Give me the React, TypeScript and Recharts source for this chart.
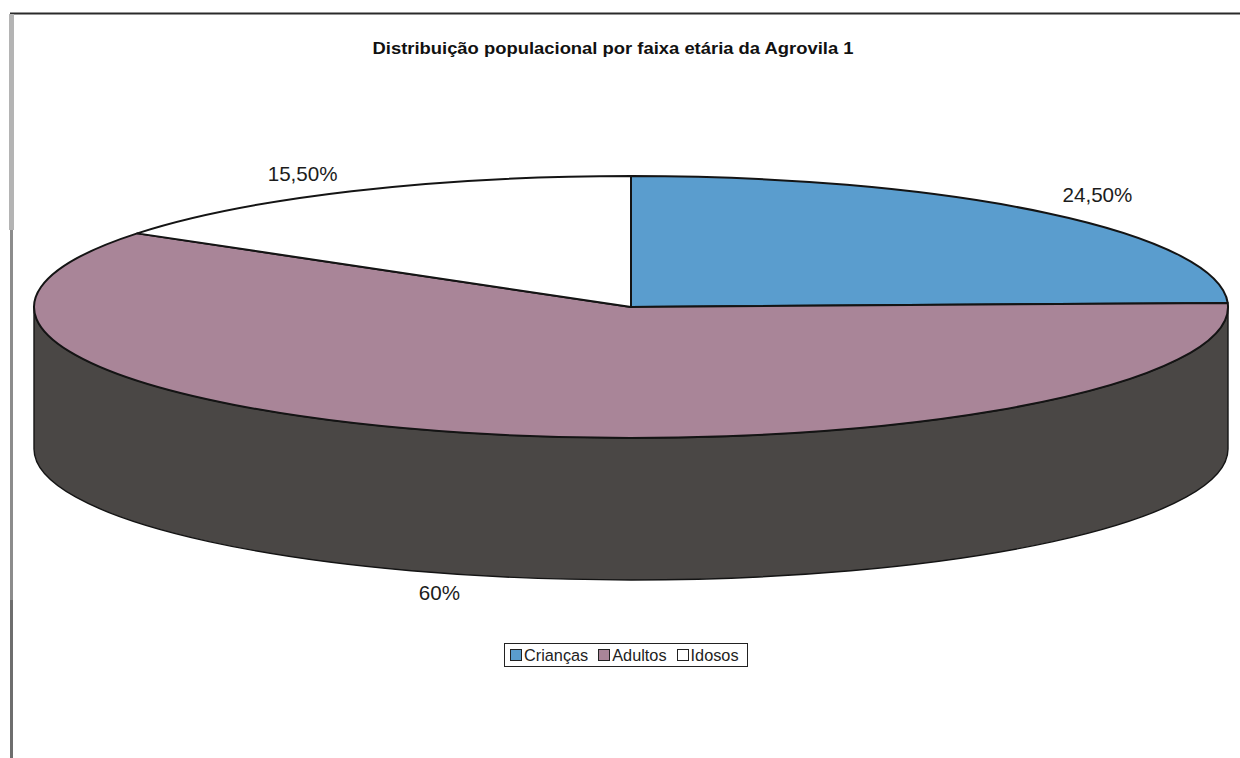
import React from "react";
import { PieChart, Pie, Cell, Legend } from "recharts";

const categories = ["Crianças", "Adultos", "Idosos"];
const shares = [24.5, 60, 15.5];
const shareLabels = ["24,50%", "60%", "15,50%"];
const sliceColors = ["#5a9dce", "#a98598", "#ffffff"];
const title = "Distribuição populacional por faixa etária da Agrovila 1";

const rows = categories.map((name, i) => ({ name, value: shares[i], text: shareLabels[i] }));

const FONT = '"Liberation Sans", Arial, sans-serif';
const WIDTH = 1240;
const HEIGHT = 758;
const CX = 631;
const CY = 307;
const RX = 597;
// Vertical squash of the disc and the height of its rim
const SQUASH = 131 / 597;
const DEPTH = 142;
const RIM = "#4a4745";
const INK = "#141414";
const RAD = Math.PI / 180;

const rimPoint = (cx: number, cy: number, r: number, deg: number) => ({
  x: cx + r * Math.cos(deg * RAD),
  y: cy - r * SQUASH * Math.sin(deg * RAD),
});

// One slice of the tilted disc, with its rim wherever the slice faces the viewer
function DiscSlice(props: any) {
  const { cx, cy, outerRadius: r, startAngle, endAngle, fill } = props;
  const ry = r * SQUASH;
  const a = rimPoint(cx, cy, r, startAngle);
  const b = rimPoint(cx, cy, r, endAngle);
  const large = Math.abs(startAngle - endAngle) > 180 ? 1 : 0;
  const top = `M${cx},${cy} L${a.x},${a.y} A${r},${ry} 0 ${large} 1 ${b.x},${b.y} Z`;

  const hi = Math.min(startAngle, 0);
  const lo = Math.max(endAngle, -180);
  let wall = null;
  if (hi > lo) {
    const p = rimPoint(cx, cy, r, hi);
    const q = rimPoint(cx, cy, r, lo);
    const d = `M${p.x},${p.y} A${r},${ry} 0 0 1 ${q.x},${q.y} L${q.x},${q.y + DEPTH} A${r},${ry} 0 0 0 ${p.x},${p.y + DEPTH} Z`;
    wall = <path d={d} fill={RIM} stroke={INK} strokeWidth={1.4} strokeLinejoin="round" />;
  }
  return (
    <g>
      {wall}
      <path d={top} fill={fill} stroke={INK} strokeWidth={2} strokeLinejoin="round" />
    </g>
  );
}

// Percent labels sit just outside the slice's mid point on the rim
function ShareLabel(props: any) {
  const { cx, cy, outerRadius, midAngle, payload } = props;
  const p = rimPoint(cx, cy, outerRadius, midAngle);
  const front = Math.sin(midAngle * RAD) < 0;
  const dx = front ? -25 : Math.cos(midAngle * RAD) > 0 ? 51 : -49;
  const dy = front ? DEPTH + 18 : -18;
  return (
    <text x={p.x + dx} y={p.y + dy} textAnchor="middle" dominantBaseline="central" fontFamily={FONT} fontSize={20.6} fill="#1c1c1c">
      {payload.text}
    </text>
  );
}

function LegendBox(props: any) {
  const items = props.payload ?? [];
  return (
    <div
      style={{
        boxSizing: "border-box",
        width: 244,
        height: 24,
        border: "1.5px solid #222",
        background: "#fff",
        display: "flex",
        alignItems: "center",
        paddingLeft: 5,
        fontFamily: FONT,
        fontSize: 16.3,
        color: "#222",
        whiteSpace: "nowrap",
      }}
    >
      {items.map((it: any, i: number) => (
        <span key={it.value} style={{ display: "inline-flex", alignItems: "center", marginRight: i < items.length - 1 ? 10 : 0 }}>
          <span style={{ width: 10, height: 10, border: "1.5px solid #222", background: it.color, marginRight: 2, boxSizing: "content-box" }} />
          {it.value}
        </span>
      ))}
    </div>
  );
}

export default function App() {
  return (
    <div style={{ position: "absolute", left: 0, top: 0, width: WIDTH, height: HEIGHT, background: "#fff" }}>
      <PieChart width={WIDTH} height={HEIGHT} margin={{ top: 0, right: 0, bottom: 0, left: 0 }}>
        <line x1={10} y1={13.5} x2={WIDTH} y2={13.5} stroke="#2a2a2a" strokeWidth={2} />
        <line x1={11.5} y1={14} x2={11.5} y2={230} stroke="#b4b4b4" strokeWidth={5} />
        <line x1={11.5} y1={230} x2={11.5} y2={600} stroke="#8c8c8c" strokeWidth={3} />
        <line x1={11.5} y1={600} x2={11.5} y2={HEIGHT} stroke="#6e6e6e" strokeWidth={3} />
        <text x={613} y={54} textAnchor="middle" fontFamily={FONT} fontWeight="bold" fontSize={16.5} textLength={481} lengthAdjust="spacingAndGlyphs" fill="#111">
          {title}
        </text>
        <Pie
          data={rows}
          dataKey="value"
          nameKey="name"
          cx={CX}
          cy={CY}
          innerRadius={0}
          outerRadius={RX}
          startAngle={90}
          endAngle={-270}
          stroke="none"
          shape={DiscSlice}
          label={ShareLabel}
          labelLine={false}
          isAnimationActive={false}
        >
          {rows.map((r, i) => (
            <Cell key={r.name} fill={sliceColors[i]} />
          ))}
        </Pie>
        <Legend
          content={LegendBox}
          itemSorter={null}
          wrapperStyle={{ position: "absolute", left: 504, top: 643, width: 244, bottom: "auto" }}
        />
      </PieChart>
    </div>
  );
}
